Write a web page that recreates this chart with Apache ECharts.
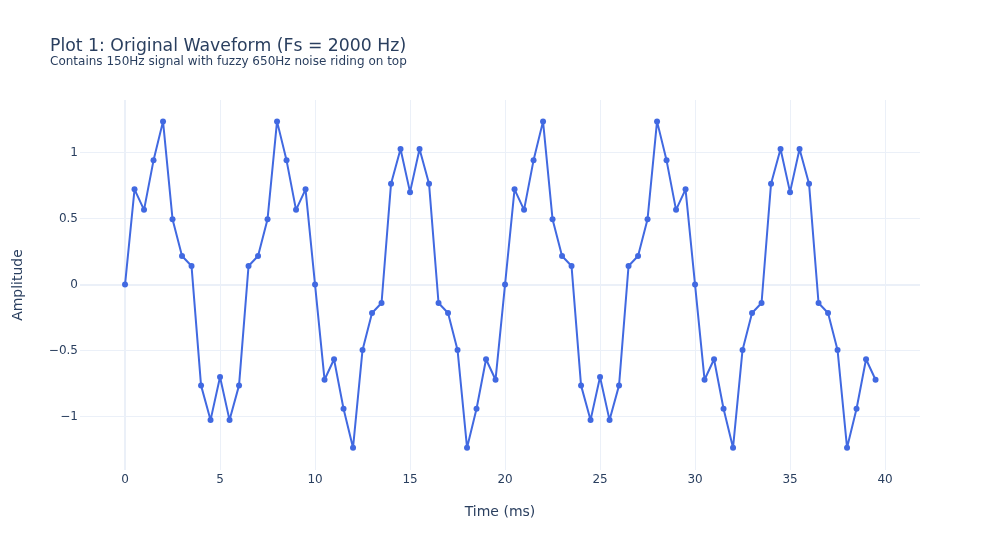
<!DOCTYPE html>
<html>
<head>
<meta charset="utf-8">
<script src="https://cdn.jsdelivr.net/npm/echarts@6/dist/echarts.min.js"></script>
<style>html,body{margin:0;padding:0;background:#fff}#c{width:1000px;height:550px}</style>
</head>
<body>
<div id="c"></div>
<script>
const timeMs = [0,0.5,1,1.5,2,2.5,3,3.5,4,4.5,5,5.5,6,6.5,7,7.5,8,8.5,9,9.5,
  10,10.5,11,11.5,12,12.5,13,13.5,14,14.5,15,15.5,16,16.5,17,17.5,18,18.5,19,19.5,
  20,20.5,21,21.5,22,22.5,23,23.5,24,24.5,25,25.5,26,26.5,27,27.5,28,28.5,29,29.5,
  30,30.5,31,31.5,32,32.5,33,33.5,34,34.5,35,35.5,36,36.5,37,37.5,38,38.5,39,39.5];
const amplitude = [0,0.721,0.566,0.941,1.236,0.495,0.216,0.140,-0.764,-1.027,
  -0.700,-1.027,-0.764,0.140,0.216,0.495,1.236,0.941,0.566,0.721,
  0,-0.721,-0.566,-0.941,-1.236,-0.495,-0.216,-0.140,0.764,1.027,
  0.700,1.027,0.764,-0.140,-0.216,-0.495,-1.236,-0.941,-0.566,-0.721,
  0,0.721,0.566,0.941,1.236,0.495,0.216,0.140,-0.764,-1.027,
  -0.700,-1.027,-0.764,0.140,0.216,0.495,1.236,0.941,0.566,0.721,
  0,-0.721,-0.566,-0.941,-1.236,-0.495,-0.216,-0.140,0.764,1.027,
  0.700,1.027,0.764,-0.140,-0.216,-0.495,-1.236,-0.941,-0.566,-0.721];
const xTicks = [0,5,10,15,20,25,30,35,40];
const yTicks = [-1,-0.5,0,0.5,1];
const titleText = 'Plot 1: Original Waveform (Fs = 2000 Hz)';
const subtitleText = 'Contains 150Hz signal with fuzzy 650Hz noise riding on top';

const font = '"DejaVu Sans", Verdana, sans-serif';
const ink = '#2a3f5f';
const gridColor = '#EBF0F8';

const chart = echarts.init(document.getElementById('c'));
chart.setOption({
  animation: false,
  backgroundColor: '#fff',
  textStyle: { fontFamily: font },
  title: [
    { text: titleText, left: 50, top: 38, padding: 0, textStyle: { fontFamily: font, fontSize: 17.3, fontWeight: 'normal', color: ink } },
    { text: subtitleText, left: 50, top: 56, padding: 0, textStyle: { fontFamily: font, fontSize: 12, fontWeight: 'normal', color: ink } }
  ],
  grid: { left: 80, right: 80, top: 100, bottom: 80, containLabel: false },
  xAxis: {
    type: 'value', min: -2.37, max: 41.84,
    name: 'Time (ms)', nameLocation: 'middle', nameGap: 35,
    nameTextStyle: { fontFamily: font, fontSize: 14, color: ink },
    axisLine: { show: false },
    axisTick: { show: false, customValues: xTicks },
    axisLabel: { fontFamily: font, fontSize: 12, color: ink, margin: 4, customValues: xTicks },
    splitLine: { show: true, lineStyle: { color: gridColor, width: 1 } }
  },
  yAxis: {
    type: 'value', min: -1.405, max: 1.398,
    name: 'Amplitude', nameLocation: 'middle', nameGap: 55,
    nameTextStyle: { fontFamily: font, fontSize: 14, color: ink },
    axisLine: { show: false },
    axisTick: { show: false, customValues: yTicks },
    axisLabel: { fontFamily: font, fontSize: 12, color: ink, margin: 2, customValues: yTicks,
      formatter: v => (v < 0 ? '\u2212' + Math.abs(v) : String(v)) },
    splitLine: { show: true, lineStyle: { color: gridColor, width: 1 } }
  },
  series: [{
    type: 'line',
    data: [],
    z: 0,
    zlevel: 0,
    silent: true,
    markLine: {
      z: 0,
      silent: true, symbol: 'none', label: { show: false }, animation: false,
      lineStyle: { color: gridColor, width: 2, type: 'solid' },
      data: [{ yAxis: 0 }, { xAxis: 0 }]
    }
  }, {
    type: 'line',
    data: timeMs.map((t, i) => [t, amplitude[i]]),
    symbol: 'circle', symbolSize: 6, showSymbol: true,
    lineStyle: { color: 'royalblue', width: 2 },
    itemStyle: { color: 'royalblue' },
    clip: false,
    z: 10
  }]
});
</script>
</body>
</html>
